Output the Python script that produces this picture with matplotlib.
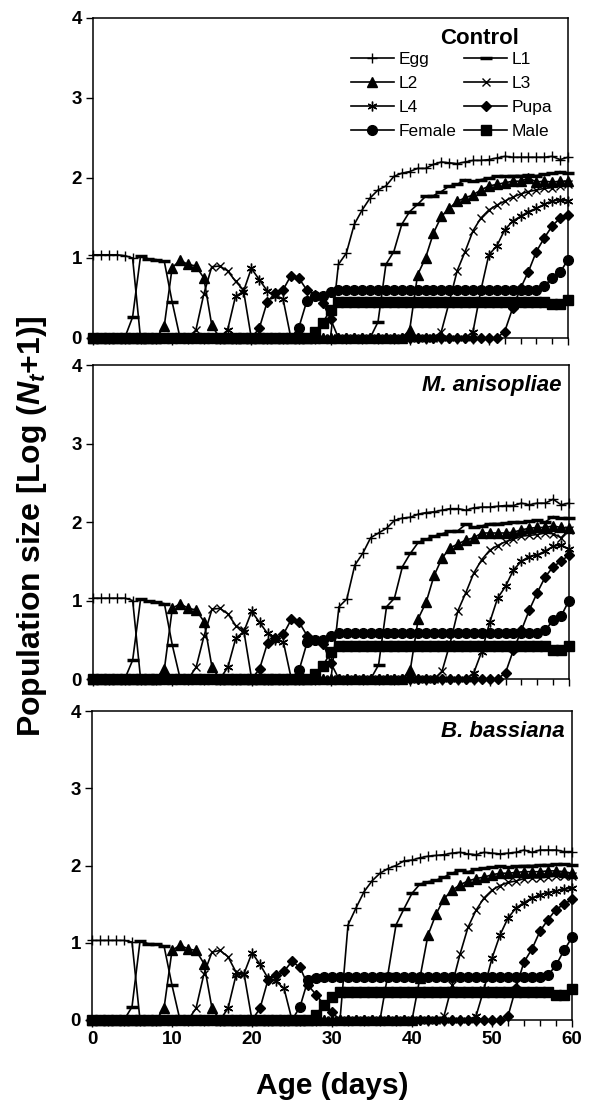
import matplotlib
matplotlib.use("Agg")
import matplotlib.pyplot as plt
from matplotlib.ticker import MultipleLocator

plt.rcParams["font.family"] = "Liberation Sans"
plt.rcParams["mathtext.fontset"] = "custom"
plt.rcParams["mathtext.it"] = "Liberation Sans:italic:bold"
plt.rcParams["mathtext.rm"] = "Liberation Sans:bold"

days = list(range(61))
stages = ["Egg", "L1", "L2", "L3", "L4", "Pupa", "Female", "Male"]
treatments = ["Control", "M. anisopliae", "B. bassiana"]

# ---- Control ----
egg_c = [1.04, 1.04, 1.04, 1.04, 1.03, 1.00, 0, 0, 0, 0,
         0, 0, 0, 0, 0, 0, 0, 0, 0, 0,
         0, 0, 0, 0, 0, 0, 0, 0, 0, 0,
         0, 0.92, 1.06, 1.42, 1.60, 1.75, 1.85, 1.90, 2.02, 2.06,
         2.08, 2.12, 2.12, 2.17, 2.20, 2.19, 2.18, 2.20, 2.22, 2.22,
         2.23, 2.25, 2.27, 2.26, 2.26, 2.26, 2.26, 2.26, 2.27, 2.23,
         2.26]
l1_c = [0, 0, 0, 0, 0, 0.26, 1.02, 0.99, 0.98, 0.96,
        0.45, 0, 0, 0, 0, 0, 0, 0, 0, 0,
        0, 0, 0, 0, 0, 0, 0, 0, 0, 0,
        0, 0, 0, 0, 0, 0, 0.20, 0.92, 1.08, 1.42,
        1.58, 1.67, 1.77, 1.78, 1.83, 1.90, 1.92, 1.98, 1.96, 1.98,
        2.00, 2.02, 2.02, 2.03, 2.03, 2.04, 2.03, 2.05, 2.06, 2.08,
        2.06]
l2_c = [0, 0, 0, 0, 0, 0, 0, 0, 0, 0.15,
        0.88, 0.97, 0.92, 0.90, 0.75, 0.16, 0, 0, 0, 0,
        0, 0, 0, 0, 0, 0, 0, 0, 0, 0,
        0, 0, 0, 0, 0, 0, 0, 0, 0, 0,
        0.10, 0.79, 1.00, 1.31, 1.52, 1.62, 1.71, 1.75, 1.79, 1.85,
        1.90, 1.92, 1.94, 1.96, 1.96, 2.00, 1.95, 1.96, 1.95, 1.96,
        1.96]
l3_c = [0, 0, 0, 0, 0, 0, 0, 0, 0, 0,
        0, 0, 0, 0.10, 0.55, 0.89, 0.90, 0.84, 0.71, 0.60,
        0, 0, 0, 0, 0, 0, 0, 0, 0, 0,
        0, 0, 0, 0, 0, 0, 0, 0, 0, 0,
        0, 0, 0, 0, 0.08, 0.45, 0.84, 1.08, 1.34, 1.50,
        1.60, 1.66, 1.71, 1.76, 1.80, 1.83, 1.85, 1.87, 1.88, 1.90,
        1.92]
l4_c = [0, 0, 0, 0, 0, 0, 0, 0, 0, 0,
        0, 0, 0, 0, 0, 0, 0, 0.10, 0.52, 0.58,
        0.87, 0.73, 0.59, 0.53, 0.49, 0, 0, 0, 0, 0,
        0, 0, 0, 0, 0, 0, 0, 0, 0, 0,
        0, 0, 0, 0, 0, 0, 0, 0, 0.08, 0.60,
        1.04, 1.15, 1.35, 1.46, 1.52, 1.58, 1.62, 1.67, 1.71, 1.73,
        1.71]
pupa_c = [0, 0, 0, 0, 0, 0, 0, 0, 0, 0,
          0, 0, 0, 0, 0, 0, 0, 0, 0, 0,
          0, 0.12, 0.45, 0.56, 0.60, 0.78, 0.75, 0.60, 0.54, 0.44,
          0.24, 0, 0, 0, 0, 0, 0, 0, 0, 0,
          0, 0, 0, 0, 0, 0, 0, 0, 0, 0,
          0, 0, 0.08, 0.37, 0.62, 0.83, 1.08, 1.25, 1.40, 1.50,
          1.54]
female_c = [0, 0, 0, 0, 0, 0, 0, 0, 0, 0,
            0, 0, 0, 0, 0, 0, 0, 0, 0, 0,
            0, 0, 0, 0, 0, 0, 0.13, 0.46, 0.52, 0.52,
            0.57, 0.60, 0.60, 0.60, 0.60, 0.60, 0.60, 0.60, 0.60, 0.60,
            0.60, 0.60, 0.60, 0.60, 0.60, 0.60, 0.60, 0.60, 0.60, 0.60,
            0.60, 0.60, 0.60, 0.60, 0.60, 0.60, 0.60, 0.65, 0.75, 0.82,
            0.98]
male_c = [0, 0, 0, 0, 0, 0, 0, 0, 0, 0,
          0, 0, 0, 0, 0, 0, 0, 0, 0, 0,
          0, 0, 0, 0, 0, 0, 0, 0, 0.08, 0.19,
          0.35, 0.45, 0.45, 0.45, 0.45, 0.45, 0.45, 0.45, 0.45, 0.45,
          0.45, 0.45, 0.45, 0.45, 0.45, 0.45, 0.45, 0.45, 0.45, 0.45,
          0.45, 0.45, 0.45, 0.45, 0.45, 0.45, 0.45, 0.45, 0.42, 0.42,
          0.47]

# ---- M. anisopliae ----
egg_m = [1.03, 1.03, 1.03, 1.03, 1.03, 1.00, 0, 0, 0, 0,
         0, 0, 0, 0, 0, 0, 0, 0, 0, 0,
         0, 0, 0, 0, 0, 0, 0, 0, 0, 0,
         0, 0.92, 1.02, 1.45, 1.60, 1.80, 1.86, 1.92, 2.02, 2.05,
         2.06, 2.10, 2.12, 2.13, 2.15, 2.17, 2.17, 2.15, 2.18, 2.19,
         2.19, 2.20, 2.21, 2.21, 2.24, 2.22, 2.24, 2.24, 2.29, 2.22,
         2.24]
l1_m = [0, 0, 0, 0, 0, 0.24, 1.02, 0.99, 0.98, 0.96,
        0.43, 0, 0, 0, 0, 0, 0, 0, 0, 0,
        0, 0, 0, 0, 0, 0, 0, 0, 0, 0,
        0, 0, 0, 0, 0, 0, 0.18, 0.92, 1.03, 1.43,
        1.60, 1.74, 1.78, 1.82, 1.85, 1.88, 1.89, 1.97, 1.93, 1.95,
        1.98, 1.98, 1.99, 2.00, 2.00, 2.01, 2.02, 2.00, 2.07, 2.05,
        2.05]
l2_m = [0, 0, 0, 0, 0, 0, 0, 0, 0, 0.13,
        0.90, 0.96, 0.90, 0.88, 0.73, 0.15, 0, 0, 0, 0,
        0, 0, 0, 0, 0, 0, 0, 0, 0, 0,
        0, 0, 0, 0, 0, 0, 0, 0, 0, 0,
        0.12, 0.77, 0.98, 1.32, 1.54, 1.67, 1.72, 1.77, 1.80, 1.86,
        1.86, 1.86, 1.86, 1.87, 1.90, 1.92, 1.93, 1.93, 1.95, 1.93,
        1.92]
l3_m = [0, 0, 0, 0, 0, 0, 0, 0, 0, 0,
        0, 0, 0, 0.15, 0.55, 0.89, 0.90, 0.83, 0.68, 0.62,
        0, 0, 0, 0, 0, 0, 0, 0, 0, 0,
        0, 0, 0, 0, 0, 0, 0, 0, 0, 0,
        0, 0, 0, 0, 0.10, 0.45, 0.87, 1.10, 1.35, 1.52,
        1.64, 1.70, 1.75, 1.78, 1.82, 1.83, 1.84, 1.86, 1.85, 1.80,
        1.90]
l4_m = [0, 0, 0, 0, 0, 0, 0, 0, 0, 0,
        0, 0, 0, 0, 0, 0, 0, 0.15, 0.52, 0.60,
        0.86, 0.72, 0.58, 0.50, 0.47, 0, 0, 0, 0, 0,
        0, 0, 0, 0, 0, 0, 0, 0, 0, 0,
        0, 0, 0, 0, 0, 0, 0, 0, 0.08, 0.35,
        0.72, 1.03, 1.18, 1.39, 1.50, 1.56, 1.58, 1.63, 1.69, 1.71,
        1.65]
pupa_m = [0, 0, 0, 0, 0, 0, 0, 0, 0, 0,
          0, 0, 0, 0, 0, 0, 0, 0, 0, 0,
          0, 0.13, 0.46, 0.52, 0.57, 0.76, 0.72, 0.55, 0.50, 0.45,
          0.20, 0, 0, 0, 0, 0, 0, 0, 0, 0,
          0, 0, 0, 0, 0, 0, 0, 0, 0, 0,
          0, 0, 0.08, 0.37, 0.62, 0.88, 1.10, 1.30, 1.43, 1.50,
          1.58]
female_m = [0, 0, 0, 0, 0, 0, 0, 0, 0, 0,
            0, 0, 0, 0, 0, 0, 0, 0, 0, 0,
            0, 0, 0, 0, 0, 0, 0.12, 0.47, 0.50, 0.50,
            0.55, 0.58, 0.58, 0.58, 0.58, 0.58, 0.58, 0.58, 0.58, 0.58,
            0.58, 0.58, 0.58, 0.58, 0.58, 0.58, 0.58, 0.58, 0.58, 0.58,
            0.58, 0.58, 0.58, 0.58, 0.58, 0.58, 0.58, 0.62, 0.75, 0.80,
            1.00]
male_m = [0, 0, 0, 0, 0, 0, 0, 0, 0, 0,
          0, 0, 0, 0, 0, 0, 0, 0, 0, 0,
          0, 0, 0, 0, 0, 0, 0, 0, 0.07, 0.17,
          0.35, 0.42, 0.42, 0.42, 0.42, 0.42, 0.42, 0.42, 0.42, 0.42,
          0.42, 0.42, 0.42, 0.42, 0.42, 0.42, 0.42, 0.42, 0.42, 0.42,
          0.42, 0.42, 0.42, 0.42, 0.42, 0.42, 0.42, 0.42, 0.37, 0.37,
          0.42]

# ---- B. bassiana ----
egg_b = [1.03, 1.03, 1.03, 1.03, 1.03, 1.01, 0, 0, 0, 0,
         0, 0, 0, 0, 0, 0, 0, 0, 0, 0,
         0, 0, 0, 0, 0, 0, 0, 0, 0, 0,
         0, 0, 1.23, 1.45, 1.66, 1.80, 1.90, 1.96, 2.00, 2.06,
         2.07, 2.10, 2.12, 2.13, 2.14, 2.16, 2.17, 2.15, 2.14, 2.17,
         2.16, 2.15, 2.16, 2.17, 2.20, 2.17, 2.20, 2.20, 2.20, 2.18,
         2.18]
l1_b = [0, 0, 0, 0, 0, 0.17, 1.02, 0.99, 0.98, 0.96,
        0.45, 0, 0, 0, 0, 0, 0, 0, 0, 0,
        0, 0, 0, 0, 0, 0, 0, 0, 0, 0,
        0, 0, 0, 0, 0, 0, 0, 0.60, 1.23, 1.44,
        1.64, 1.76, 1.79, 1.81, 1.85, 1.90, 1.94, 1.92, 1.95, 1.97,
        1.98, 1.99, 1.98, 1.99, 2.00, 2.00, 2.01, 2.01, 2.02, 2.02,
        2.01]
l2_b = [0, 0, 0, 0, 0, 0, 0, 0, 0, 0.15,
        0.90, 0.97, 0.92, 0.90, 0.73, 0.15, 0, 0, 0, 0,
        0, 0, 0, 0, 0, 0, 0, 0, 0, 0,
        0, 0, 0, 0, 0, 0, 0, 0, 0, 0,
        0, 0.55, 1.10, 1.37, 1.57, 1.68, 1.75, 1.80, 1.83, 1.85,
        1.88, 1.90, 1.90, 1.91, 1.92, 1.92, 1.92, 1.93, 1.93, 1.92,
        1.90]
l3_b = [0, 0, 0, 0, 0, 0, 0, 0, 0, 0,
        0, 0, 0, 0.15, 0.60, 0.88, 0.90, 0.82, 0.62, 0.60,
        0, 0, 0, 0, 0, 0, 0, 0, 0, 0,
        0, 0, 0, 0, 0, 0, 0, 0, 0, 0,
        0, 0, 0, 0, 0.05, 0.45, 0.85, 1.20, 1.42, 1.58,
        1.68, 1.74, 1.78, 1.80, 1.83, 1.84, 1.84, 1.85, 1.87, 1.87,
        1.86]
l4_b = [0, 0, 0, 0, 0, 0, 0, 0, 0, 0,
        0, 0, 0, 0, 0, 0, 0, 0.15, 0.58, 0.60,
        0.87, 0.72, 0.54, 0.50, 0.41, 0, 0, 0, 0, 0,
        0, 0, 0, 0, 0, 0, 0, 0, 0, 0,
        0, 0, 0, 0, 0, 0, 0, 0, 0.05, 0.40,
        0.80, 1.10, 1.32, 1.45, 1.52, 1.58, 1.62, 1.65, 1.67, 1.69,
        1.71]
pupa_b = [0, 0, 0, 0, 0, 0, 0, 0, 0, 0,
          0, 0, 0, 0, 0, 0, 0, 0, 0, 0,
          0, 0.15, 0.52, 0.58, 0.63, 0.76, 0.68, 0.45, 0.33, 0.20,
          0.10, 0, 0, 0, 0, 0, 0, 0, 0, 0,
          0, 0, 0, 0, 0, 0, 0, 0, 0, 0,
          0, 0, 0.05, 0.42, 0.75, 0.92, 1.15, 1.30, 1.43, 1.50,
          1.56]
female_b = [0, 0, 0, 0, 0, 0, 0, 0, 0, 0,
            0, 0, 0, 0, 0, 0, 0, 0, 0, 0,
            0, 0, 0, 0, 0, 0, 0.17, 0.52, 0.55, 0.56,
            0.56, 0.56, 0.56, 0.56, 0.56, 0.56, 0.56, 0.56, 0.56, 0.56,
            0.56, 0.56, 0.56, 0.56, 0.56, 0.56, 0.56, 0.56, 0.56, 0.56,
            0.56, 0.56, 0.56, 0.56, 0.56, 0.56, 0.56, 0.58, 0.71, 0.90,
            1.07]
male_b = [0, 0, 0, 0, 0, 0, 0, 0, 0, 0,
          0, 0, 0, 0, 0, 0, 0, 0, 0, 0,
          0, 0, 0, 0, 0, 0, 0, 0, 0.07, 0.20,
          0.30, 0.36, 0.36, 0.36, 0.36, 0.36, 0.36, 0.36, 0.36, 0.36,
          0.36, 0.36, 0.36, 0.36, 0.36, 0.36, 0.36, 0.36, 0.36, 0.36,
          0.36, 0.36, 0.36, 0.36, 0.36, 0.36, 0.36, 0.36, 0.32, 0.33,
          0.40]

panels = [
    [egg_c, l1_c, l2_c, l3_c, l4_c, pupa_c, female_c, male_c],
    [egg_m, l1_m, l2_m, l3_m, l4_m, pupa_m, female_m, male_m],
    [egg_b, l1_b, l2_b, l3_b, l4_b, pupa_b, female_b, male_b],
]

styles = {
    "Egg": dict(marker="+", ms=7, mew=1.0),
    "L1": dict(marker="_", ms=8, mew=2.5),
    "L2": dict(marker="^", ms=7),
    "L3": dict(marker="x", ms=6, mew=1.0),
    "L4": dict(marker=(6, 2, 0), ms=7, mew=1.0),
    "Pupa": dict(marker="D", ms=5.5),
    "Female": dict(marker="o", ms=7),
    "Male": dict(marker="s", ms=7),
}

fig = plt.figure(figsize=(6.15, 11.02), dpi=100)
# [left, bottom, width, height] in figure fraction
boxes = [
    [93 / 615, 1 - 338 / 1102, 475 / 615, 320 / 1102],
    [93 / 615, 1 - 679 / 1102, 476 / 615, 314 / 1102],
    [92 / 615, 1 - 1020 / 1102, 480 / 615, 309 / 1102],
]

axes = []
for i, (box, series) in enumerate(zip(boxes, panels)):
    ax = fig.add_axes(box)
    for stage, vals in zip(stages, series):
        ax.plot(days, vals, color="black", lw=1.2, label=stage,
                clip_on=False, **styles[stage])
    ax.set_xlim(0, 60)
    ax.set_ylim(0, 4)
    ax.xaxis.set_major_locator(MultipleLocator(10))
    ax.xaxis.set_minor_locator(MultipleLocator(2))
    ax.yaxis.set_major_locator(MultipleLocator(1))
    ax.tick_params(axis="both", which="major", direction="out", length=5,
                   width=1, labelsize=13.5, pad=3)
    ax.tick_params(axis="x", which="minor", direction="out", length=4, width=1)
    for lab in ax.get_xticklabels() + ax.get_yticklabels():
        lab.set_fontweight("bold")
    for sp in ax.spines.values():
        sp.set_linewidth(1.1)
    if i < 2:
        ax.tick_params(axis="x", labelbottom=False)
    axes.append(ax)

# legend in the control panel, filled row by row
ax0 = axes[0]
h, l = ax0.get_legend_handles_labels()
order = [0, 2, 4, 6, 1, 3, 5, 7]
ax0.legend([h[k] for k in order], [l[k] for k in order], ncol=2,
           loc="upper right", bbox_to_anchor=(0.967, 0.893), frameon=False,
           fontsize=12.5, handlelength=2.5, handletextpad=0.25,
           columnspacing=0.45, labelspacing=0.5, borderpad=0, borderaxespad=0)
ax0.text(0.813, 0.937, treatments[0], transform=ax0.transAxes,
         ha="center", va="center", fontsize=16, fontweight="bold")
axes[1].text(0.985, 0.934, treatments[1], transform=axes[1].transAxes,
             ha="right", va="center", fontsize=16, fontweight="bold",
             style="italic")
axes[2].text(0.985, 0.933, treatments[2], transform=axes[2].transAxes,
             ha="right", va="center", fontsize=16, fontweight="bold",
             style="italic")

axes[2].set_xlabel("Age (days)", fontsize=21.5, fontweight="bold", labelpad=17)
fig.text(0.052, 0.523, r"Population size [Log ($\mathit{N_t}$+1)]",
         rotation=90, ha="center", va="center", fontsize=23,
         fontweight="bold")

fig.savefig("out.png", dpi=100)
